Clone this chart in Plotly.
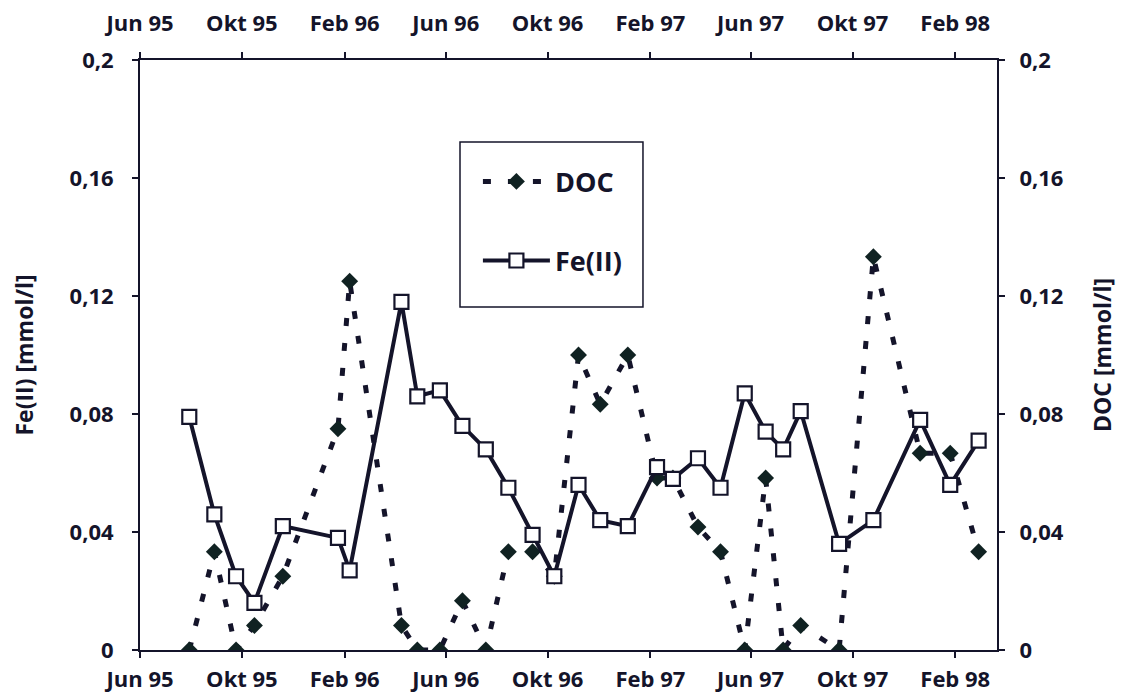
import plotly.graph_objects as go

# ---------------- data ----------------
dates = ["1995-07-30", "1995-08-29", "1995-09-24", "1995-10-16", "1995-11-19",
         "1996-01-24", "1996-02-07", "1996-04-09", "1996-04-28", "1996-05-25",
         "1996-06-21", "1996-07-19", "1996-08-15", "1996-09-13", "1996-10-09",
         "1996-11-07", "1996-12-03", "1997-01-05", "1997-02-09", "1997-02-28",
         "1997-03-30", "1997-04-26", "1997-05-25", "1997-06-19", "1997-07-10",
         "1997-07-31", "1997-09-15", "1997-10-26", "1997-12-21", "1998-01-26",
         "1998-03-01"]
fe2 = [0.079, 0.046, 0.025, 0.016, 0.042, 0.038, 0.027, 0.118, 0.086, 0.088,
       0.076, 0.068, 0.055, 0.039, 0.025, 0.056, 0.044, 0.042, 0.062, 0.058,
       0.065, 0.055, 0.087, 0.074, 0.068, 0.081, 0.036, 0.044, 0.078, 0.056,
       0.071]
doc = [0.0, 0.0333, 0.0, 0.0083, 0.025, 0.075, 0.125, 0.0083, 0.0, 0.0,
       0.0167, 0.0, 0.0333, 0.0333, 0.025, 0.1, 0.0833, 0.1, 0.0583, 0.0583,
       0.0417, 0.0333, 0.0, 0.0583, 0.0, 0.0083, 0.0, 0.1333, 0.0667, 0.0667,
       0.0333]

tick_dates = ["1995-06-01", "1995-10-01", "1996-02-01", "1996-06-01", "1996-10-01",
              "1997-02-01", "1997-06-01", "1997-10-01", "1998-02-01"]
tick_labels = ["Jun 95", "Okt 95", "Feb 96", "Jun 96", "Okt 96",
               "Feb 97", "Jun 97", "Okt 97", "Feb 98"]
y_ticks = [0, 0.04, 0.08, 0.12, 0.16, 0.2]
y_labels = ["0", "0,04", "0,08", "0,12", "0,16", "0,2"]
x_range = ["1995-06-01", "1998-03-23"]
y_range = [0, 0.2]

INK = "#14142a"
FONT = "Open Sans"
tickfont = dict(family=FONT, size=22, color=INK, weight="bold")
titlefont = dict(family=FONT, size=23, color=INK, weight="bold")

fig = go.Figure()

fig.add_trace(go.Scatter(
    x=dates, y=doc, name="DOC", mode="lines+markers",
    xaxis="x", yaxis="y", legendgroup="doc",
    line=dict(color=INK, width=5, dash="8px,17px"),
    marker=dict(symbol="diamond", size=13, color="#102222",
                line=dict(width=0)),
))
fig.add_trace(go.Scatter(
    x=dates, y=fe2, name="Fe(II)", mode="lines+markers",
    xaxis="x2", yaxis="y2", legendgroup="fe",
    line=dict(color=INK, width=4),
    marker=dict(symbol="square", size=14, color="white",
                line=dict(color=INK, width=2.2)),
))

common_x = dict(type="date", range=x_range, tickvals=tick_dates, ticktext=tick_labels,
                showgrid=False, zeroline=False, tickfont=tickfont, automargin=False,
                ticklen=6, tickwidth=1.5, tickcolor=INK)
common_y = dict(range=y_range, tickvals=y_ticks, ticktext=y_labels,
                showgrid=False, zeroline=False, tickfont=tickfont, automargin=False,
                ticklen=6, tickwidth=1.5, tickcolor=INK)

fig.update_layout(
    width=1117, height=690,
    margin=dict(l=132, r=128, t=52, b=48),
    paper_bgcolor="white", plot_bgcolor="white",
    showlegend=True,
    xaxis=dict(**common_x, side="bottom", anchor="y", ticks="outside",
               showline=True, linewidth=2, linecolor=INK, ticklabelstandoff=3),
    xaxis2=dict(**common_x, side="top", anchor="y", overlaying="x", ticks="outside",
                showline=True, linewidth=2, linecolor=INK, ticklabelstandoff=12),
    xaxis3=dict(**common_x, side="bottom", anchor="y3", overlaying="x", ticks="inside",
                showticklabels=False, showline=False),
    xaxis4=dict(**common_x, side="top", anchor="y4", overlaying="x", ticks="inside",
                showticklabels=False, showline=False),
    yaxis=dict(**common_y, side="right", anchor="x", ticks="outside",
               showline=True, linewidth=2, linecolor=INK, ticklabelstandoff=10,
               title=dict(text="DOC [mmol/l]", standoff=32, font=titlefont)),
    yaxis2=dict(**common_y, side="left", anchor="x", overlaying="y", ticks="outside",
                showline=True, linewidth=2, linecolor=INK, ticklabelstandoff=14,
                title=dict(text="Fe(II) [mmol/l]", standoff=33, font=titlefont)),
    yaxis3=dict(**common_y, side="left", anchor="x3", overlaying="y", ticks="inside",
                showticklabels=False, showline=False),
    yaxis4=dict(**common_y, side="right", anchor="x4", overlaying="y", ticks="inside",
                showticklabels=False, showline=False),
    legend=dict(x=0.3943, y=0.835, xanchor="left", yanchor="top",
                bgcolor="rgba(0,0,0,0)", borderwidth=0,
                font=dict(family=FONT, size=27, color=INK, weight="bold"),
                traceorder="grouped", tracegroupgap=41, itemwidth=67),
    shapes=[dict(type="rect", xref="paper", yref="paper",
                 x0=0.3734, x1=0.5869, y0=0.5814, y1=0.861,
                 line=dict(color=INK, width=1.5), fillcolor="white", layer="below")],
)

fig.write_html("out.html")
